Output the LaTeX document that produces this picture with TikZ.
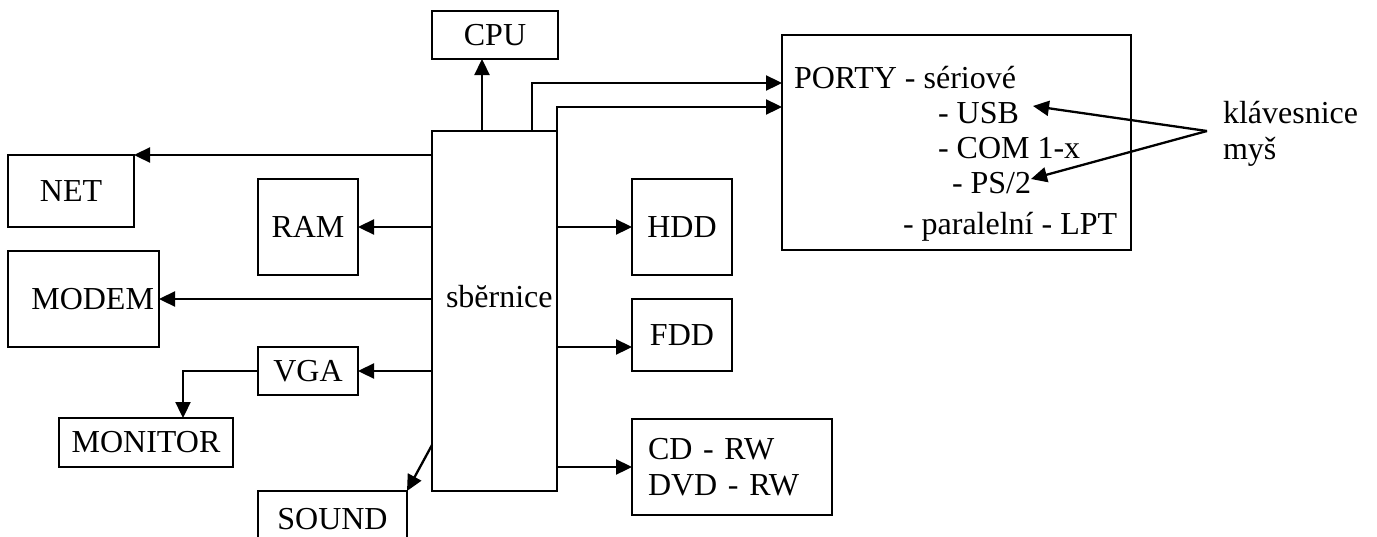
\documentclass[tikz,border=0pt]{standalone}
\usepackage{fontspec}
\setmainfont{Liberation Serif}
\usetikzlibrary{arrows.meta,calc}
\begin{document}
\begin{tikzpicture}[x=1pt,y=-1pt,
  box/.style={draw, line width=2.3pt, inner sep=0pt, outer sep=0pt, font=\fontsize{32}{36}\selectfont},
  txt/.style={inner sep=0pt, outer sep=0pt, font=\fontsize{32}{36}\selectfont},
  arr/.style={line width=2.3pt, -{Triangle[length=16pt,width=15pt]}}]
\useasboundingbox (0,0) rectangle (1377,536);
\clip (0,0) rectangle (1377,536);
% boxes
\node[box, minimum width=126, minimum height=48] (cpu) at (495,35) {CPU};
\node[box, minimum width=349, minimum height=215] (ports) at (956.5,142.5) {};
\node[box, minimum width=125, minimum height=360] (bus) at (494.5,311) {};
\node[box, minimum width=126, minimum height=72] (net) at (71,191) {NET};
\node[box, minimum width=100, minimum height=96] (ram) at (308,227) {RAM};
\node[box, minimum width=151, minimum height=96, text width=141, align=right] (modem) at (83.5,299) {MODEM};
\node[box, minimum width=100, minimum height=48] (vga) at (308,371) {VGA};
\node[box, minimum width=174, minimum height=49] (monitor) at (146,442.5) {MONITOR};
\node[box, minimum width=149, minimum height=56] (sound) at (332.5,519) {SOUND};
\node[box, minimum width=100, minimum height=96] (hdd) at (682,227) {HDD};
\node[box, minimum width=100, minimum height=72] (fdd) at (682,335) {FDD};
\node[box, minimum width=200, minimum height=96, text width=168, align=left] (cd) at (732,467) {CD - RW\\DVD - RW};
% texts
\node[txt, anchor=base west] (sb) at (446,307) {sbĕrnice};
\node[txt, anchor=base west] (p1) at (794,88) {PORTY - sériové};
\node[txt, anchor=base west] (p2) at (938,123) {- USB};
\node[txt, anchor=base west] (p3) at (938,158) {- COM 1-x};
\node[txt, anchor=base west] (p4) at (952,193) {- PS/2};
\node[txt, anchor=base west] (p5) at (903,234) {- paralelní - LPT};
\node[txt, anchor=base west] (kb) at (1223,123) {klávesnice};
\node[txt, anchor=base west] (mys) at (1223,159) {myš};
\coordinate (kbpt) at (1207,131);
\coordinate (usbtip) at (1033,106);
\coordinate (ps2tip) at (1031,179);
\coordinate (cpuout) at ($(bus.north west)+(50,0)$);
\coordinate (portout) at ($(bus.north west)+(100,0)$);
\coordinate (soundout) at ($(bus.south west)+(0,-46)$);
% connectors
\draw[arr] (cpuout) -- (cpuout |- cpu.south);
\draw[arr] (portout) |- ($(ports.north west)+(0,48)$);
\draw[arr] (bus.north east) |- ($(ports.north west)+(0,72)$);
\draw[arr] (bus.west |- net.north east) -- (net.north east);
\draw[arr] (bus.west |- ram.east) -- (ram.east);
\draw[arr] (bus.west |- modem.east) -- (modem.east);
\draw[arr] (bus.west |- vga.east) -- (vga.east);
\draw[arr] (vga.west) -| ($(monitor.north west)+(124,0)$);
\draw[arr] (soundout) -- (sound.north east);
\draw[arr] (bus.east |- hdd.west) -- (hdd.west);
\draw[arr] ($(bus.east |- fdd.west)+(0,12)$) -- ($(fdd.west)+(0,12)$);
\draw[arr] (bus.east |- cd.west) -- (cd.west);
\draw[arr] (kbpt) -- (usbtip);
\draw[arr] (kbpt) -- (ps2tip);
\end{tikzpicture}
\end{document}
